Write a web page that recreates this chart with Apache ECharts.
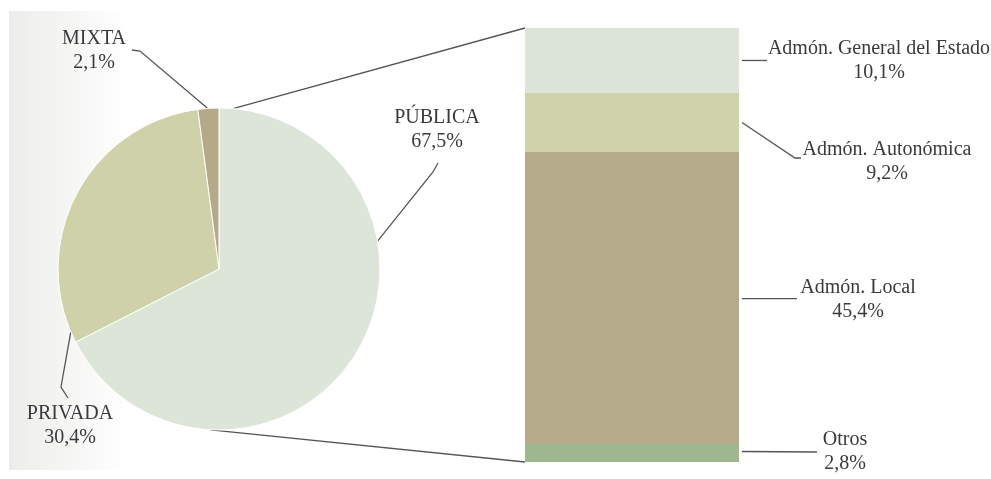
<!DOCTYPE html>
<html>
<head>
<meta charset="utf-8">
<script src="https://cdn.jsdelivr.net/npm/echarts@6/dist/echarts.min.js"></script>
<style>
  html, body { margin: 0; padding: 0; background: #ffffff; }
  #chart { width: 991px; height: 479px; }
</style>
</head>
<body>
<div id="chart"></div>
<script>
// Titularidad (porcentaje del total)
const ownershipNames = ['PÚBLICA', 'PRIVADA', 'MIXTA'];
const ownershipValues = [67.5, 30.4, 2.1];

// Desglose de la titularidad pública, de abajo arriba
const publicNames = ['Otros', 'Admón. Local', 'Admón. Autonómica', 'Admón. General del Estado'];
const publicValues = [2.8, 45.4, 9.2, 10.1];

const ownershipColors = ['#dde5d9', '#cfd2a9', '#b4aa89'];
const publicColors = ['#9fb78e', '#b5aa8a', '#cfd3aa', '#dde5d9'];

// Pie labels: block centre relative to the pie centre, angle (clockwise from
// 12 o'clock) where the guide touches the rim, elbow and end of the guide
// relative to the label centre.
const pieLabelLayout = [
  { pos: [218, -139], rim: 80, elbow: [-4, 42], end: [1, 33] },
  { pos: [-149, 157], rim: 247, elbow: [-9, -39], end: [-2, -28] },
  { pos: [-125, -218], rim: 356, elbow: [46, 0], end: [38, -1] }
];
// Bar labels: block centre relative to the right-middle of each segment,
// guide start relative to that same point, elbow and end relative to the label.
const barLabelLayout = [
  { pos: [106, -1], start: [3, -1.5], elbow: [-28, 0], end: [-28, 0] },
  { pos: [119, 2], start: [3, 0.5], elbow: [-61, -1.5], end: [-61, -1.5] },
  { pos: [148, 39], start: [3, 0], elbow: [-92, -3.5], end: [-86, -3.5] },
  { pos: [140, 0], start: [3, 0], elbow: [-112, 0], end: [-112, 0] }
];

const fmtPct = v => v.toFixed(1).replace('.', ',') + '%';

const textStyle = {
  fontFamily: 'Liberation Serif',
  fontSize: 20,
  lineHeight: 24,
  color: '#3a3a3a'
};
const guideStyle = { color: '#555555', width: 1.3 };

const chart = echarts.init(document.getElementById('chart'), null, { renderer: 'canvas' });

const pieCenter = [219, 269];
const pieRadius = 161;
const publicTotal = publicValues.reduce((a, b) => a + b, 0);

const rimPoint = deg => {
  const a = (deg - 90) * Math.PI / 180;
  return [pieCenter[0] + pieRadius * Math.cos(a), pieCenter[1] + pieRadius * Math.sin(a)];
};
const shift = (p, d) => [p[0] + d[0], p[1] + d[1]];

const option = {
  animation: false,
  backgroundColor: '#ffffff',
  grid: { left: 525, top: 28, width: 214, height: 434 },
  xAxis: { type: 'category', data: ['PÚBLICA'], show: false },
  yAxis: { type: 'value', min: 0, max: publicTotal, show: false },
  series: [
    {
      type: 'pie',
      center: pieCenter,
      radius: pieRadius,
      startAngle: 90,
      clockwise: true,
      avoidLabelOverlap: false,
      itemStyle: { borderColor: '#ffffff', borderWidth: 1 },
      emphasis: { disabled: true },
      data: ownershipNames.map((n, i) => ({
        name: n, value: ownershipValues[i], itemStyle: { color: ownershipColors[i] }
      })),
      label: {
        show: true,
        position: 'outside',
        formatter: p => p.name + '\n' + fmtPct(p.value),
        ...textStyle
      },
      labelLine: { show: true, length: 10, length2: 9, lineStyle: guideStyle },
      labelLayout: p => {
        const L = pieLabelLayout[p.dataIndex];
        const c = shift(pieCenter, L.pos);
        return {
          x: c[0],
          y: c[1],
          align: 'center',
          verticalAlign: 'middle',
          labelLinePoints: [rimPoint(L.rim), shift(c, L.elbow), shift(c, L.end)]
        };
      }
    },
    ...publicNames.map((n, i) => ({
      type: 'bar',
      name: n,
      stack: 'publica',
      barWidth: '100%',
      barCategoryGap: 0,
      data: [publicValues[i]],
      itemStyle: { color: publicColors[i] },
      emphasis: { disabled: true },
      label: {
        show: true,
        position: 'right',
        formatter: p => p.seriesName + '\n' + fmtPct(p.value),
        ...textStyle
      },
      labelLayout: p => {
        const L = barLabelLayout[i];
        const edge = [p.rect.x + p.rect.width, p.rect.y + p.rect.height / 2];
        const c = shift(edge, L.pos);
        return { x: c[0], y: c[1], align: 'center', verticalAlign: 'middle' };
      }
    }))
  ]
};

chart.setOption(option);

// Shaded panel behind the pie, connector lines from the pie rim to the
// corners of the stacked bar, and guides from each bar segment to its label
const gridRect = chart.getModel().getComponent('grid').coordinateSystem.getRect();
const lineStyle = { stroke: '#555555', lineWidth: 1.3, fill: null };
const barGuides = [];
let cumulative = 0;
publicValues.forEach((v, i) => {
  const L = barLabelLayout[i];
  const midY = chart.convertToPixel({ yAxisIndex: 0 }, cumulative + v / 2);
  cumulative += v;
  const edge = [gridRect.x + gridRect.width, midY];
  const c = shift(edge, L.pos);
  barGuides.push({
    type: 'polyline', silent: true,
    shape: { points: [shift(edge, L.start), shift(c, L.elbow), shift(c, L.end)] },
    style: lineStyle
  });
});

chart.setOption({
  graphic: [
    {
      type: 'rect',
      z: -10,
      silent: true,
      shape: { x: 9, y: 11, width: 400, height: 459 },
      style: {
        fill: {
          type: 'linear', x: 0, y: 0, x2: 1, y2: 0,
          colorStops: [
            { offset: 0, color: '#ececea' },
            { offset: 0.3, color: '#ffffff' },
            { offset: 1, color: '#ffffff' }
          ]
        }
      }
    },
    {
      type: 'polyline', silent: true,
      shape: { points: [rimPoint(5), [gridRect.x, gridRect.y]] },
      style: lineStyle
    },
    {
      type: 'polyline', silent: true,
      shape: { points: [rimPoint(183), [gridRect.x, gridRect.y + gridRect.height]] },
      style: lineStyle
    },
    ...barGuides
  ]
});
</script>
</body>
</html>
